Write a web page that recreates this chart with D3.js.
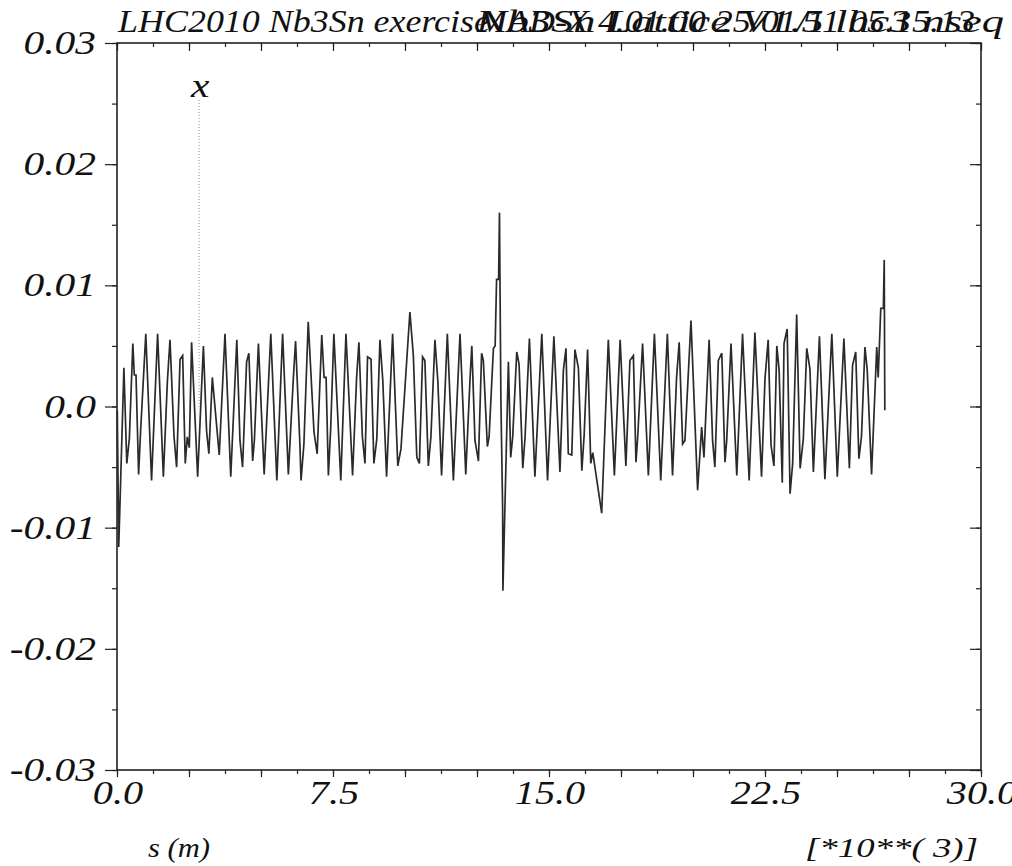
<!DOCTYPE html>
<html>
<head>
<meta charset="utf-8">
<script src="https://cdn.jsdelivr.net/npm/d3@7"></script>
<style>
  body { margin: 0; background: #fff; }
  text { font-family: "Liberation Serif", "Times New Roman", serif; font-style: italic; fill: #111; }
</style>
</head>
<body>
<div id="chart-area"></div>
<script>
const titleLeft = 'LHC2010 Nb3Sn exercise';
const titleRunA = 'MAD-X 4.01.00  25/01/11 05.15.13';
const titleRunB = 'Nb3Sn Lattice V1.5 lhc3 nseq';
const curveName = 'x';
const curveNameAt = 2.85;

const yTicks = [-0.03, -0.02, -0.01, 0, 0.01, 0.02, 0.03];
const yTickLabels = ['-0.03', '-0.02', '-0.01', '0.0', '0.01', '0.02', '0.03'];
const xTicks = [0, 7.5, 15, 22.5, 30];
const xTickLabels = ['0.0', '7.5', '15.0', '22.5', '30.0'];
const xLabel = 's (m)';
const xScaleNote = '[*10**( 3)]';

// s in km (axis is [*10**3] m), orbit x in m
const sPos = [
  0.01, 0.06, 0.24, 0.34, 0.43, 0.55, 0.60, 0.66, 0.75, 0.82,
  1.00, 1.20, 1.41, 1.61, 1.75, 1.84, 1.98, 2.07, 2.19, 2.28,
  2.37, 2.44, 2.51, 2.59, 2.80, 3.00, 3.11, 3.19, 3.31, 3.55,
  3.75, 3.95, 4.16, 4.27, 4.36, 4.50, 4.58, 4.71, 4.77, 4.91,
  5.11, 5.34, 5.55, 5.75, 5.95, 6.12, 6.20, 6.35, 6.39, 6.49,
  6.64, 6.84, 6.95, 7.11, 7.19, 7.26, 7.34, 7.42, 7.53, 7.77,
  7.95, 8.18, 8.32, 8.40, 8.52, 8.61, 8.70, 8.82, 8.92, 9.02,
  9.13, 9.23, 9.36, 9.57, 9.75, 9.86, 10.17, 10.29, 10.41, 10.50,
  10.61, 10.69, 10.81, 10.90, 11.04, 11.14, 11.27, 11.47, 11.68, 11.91,
  12.11, 12.26, 12.32, 12.43, 12.55, 12.66, 12.72, 12.86, 12.92, 13.07,
  13.13, 13.18, 13.25, 13.28, 13.33, 13.39, 13.40, 13.59, 13.67, 13.74,
  13.88, 13.96, 14.09, 14.17, 14.32, 14.51, 14.75, 14.95, 15.17, 15.38,
  15.50, 15.59, 15.67, 15.79, 15.90, 16.02, 16.14, 16.22, 16.34, 16.45,
  16.52, 16.83, 17.06, 17.27, 17.47, 17.67, 17.81, 17.93, 18.02, 18.08,
  18.25, 18.45, 18.66, 18.88, 19.11, 19.29, 19.43, 19.52, 19.64, 19.72,
  19.93, 20.16, 20.30, 20.38, 20.56, 20.68, 20.76, 20.88, 21.00, 21.11,
  21.17, 21.32, 21.52, 21.72, 21.95, 22.15, 22.38, 22.50, 22.61, 22.71,
  22.81, 22.91, 22.99, 23.10, 23.16, 23.27, 23.37, 23.46, 23.60, 23.72,
  23.83, 23.95, 24.06, 24.18, 24.39, 24.58, 24.82, 25.01, 25.24, 25.43,
  25.54, 25.65, 25.76, 25.85, 25.97, 26.05, 26.20, 26.38, 26.43, 26.52,
  26.61, 26.64, 26.66
];
const orbitX = [
  -0.0003, -0.0116, 0.0032, -0.0047, -0.0026, 0.0052, 0.0026, 0.0026, -0.0056, -0.0020,
  0.0060, -0.0061, 0.0060, -0.0058, 0.0021, 0.0055, -0.0025, -0.0050, 0.0039, 0.0042,
  -0.0047, -0.0025, -0.0034, 0.0053, -0.0058, 0.0050, -0.0020, -0.0039, 0.0024, -0.0040,
  0.0060, -0.0058, 0.0055, -0.0028, -0.0050, 0.0037, 0.0044, -0.0045, -0.0028, 0.0052,
  -0.0056, 0.0060, -0.0061, 0.0060, -0.0056, 0.0022, 0.0054, -0.0031, -0.0061, -0.0031,
  0.0070, -0.0021, -0.0039, 0.0059, 0.0024, 0.0024, -0.0057, -0.0018, 0.0060, -0.0061,
  0.0060, -0.0057, 0.0024, 0.0053, -0.0025, -0.0047, 0.0041, 0.0039, -0.0047, -0.0027,
  0.0055, 0.0021, -0.0058, 0.0060, -0.0049, -0.0035, 0.0078, 0.0042, -0.0042, -0.0047,
  0.0041, 0.0038, -0.0049, -0.0025, 0.0055, 0.0021, -0.0057, 0.0060, -0.0061, 0.0060,
  -0.0056, 0.0024, 0.0050, -0.0028, -0.0045, 0.0044, 0.0038, -0.0033, -0.0025, 0.0048,
  0.0050, 0.0105, 0.0105, 0.0160, 0.0005, -0.0084, -0.0152, 0.0037, -0.0042, -0.0025,
  0.0045, 0.0035, -0.0051, -0.0025, 0.0056, -0.0058, 0.0060, -0.0061, 0.0058, -0.0054,
  0.0030, 0.0048, -0.0039, -0.0040, 0.0047, 0.0032, -0.0053, -0.0024, 0.0047, -0.0047,
  -0.0038, -0.0088, 0.0055, -0.0057, 0.0055, -0.0049, 0.0038, 0.0042, -0.0046, -0.0025,
  0.0052, -0.0057, 0.0060, -0.0061, 0.0060, -0.0057, 0.0024, 0.0053, -0.0031, -0.0028,
  0.0071, -0.0069, -0.0017, -0.0042, 0.0055, -0.0028, -0.0050, 0.0038, 0.0044, -0.0046,
  -0.0028, 0.0052, -0.0057, 0.0060, -0.0061, 0.0061, -0.0058, 0.0023, 0.0055, -0.0032,
  -0.0049, 0.0050, 0.0030, -0.0063, 0.0052, 0.0064, -0.0072, -0.0047, 0.0076, -0.0051,
  -0.0027, 0.0048, 0.0031, -0.0054, 0.0058, -0.0060, 0.0060, -0.0058, 0.0056, -0.0051,
  0.0034, 0.0045, -0.0043, -0.0025, 0.0049, 0.0030, -0.0056, 0.0049, 0.0024, 0.0081,
  0.0081, 0.0121, -0.0003
];

const drawChart = () => {
  const chartSize = { width: 1012, height: 866 };
  const margin = { left: 117, right: 31, top: 43, bottom: 96 };
  const width = chartSize.width - margin.left - margin.right;
  const height = chartSize.height - margin.top - margin.bottom;
  const stretch = 1.22;

  const svg = d3.select('#chart-area')
    .append('svg')
    .attr('width', chartSize.width)
    .attr('height', chartSize.height);

  const g = svg.append('g')
    .attr('transform', `translate(${margin.left},${margin.top})`);

  const x = d3.scaleLinear().domain([0, 30]).range([0, width]);
  const y = d3.scaleLinear().domain([-0.03, 0.03]).range([height, 0]);

  const xMinor = d3.range(0, 30.01, 1.25);
  const xMajor = xMinor.filter((d, i) => i % 2 === 0);
  const yMinor = d3.range(-0.03, 0.0301, 0.005);
  const yMajor = yTicks;

  const tickAxis = (axis, vals, size) => axis.tickValues(vals).tickSize(size).tickFormat('');

  const addAxis = (axis, tx, ty) => {
    const a = g.append('g').attr('transform', `translate(${tx},${ty})`).call(axis);
    a.select('.domain').remove();
    a.selectAll('line').attr('stroke', '#222').attr('stroke-width', 1.2);
  };

  // left (outside), right (inside)
  addAxis(tickAxis(d3.axisLeft(y), yMinor, 5), 0, 0);
  addAxis(tickAxis(d3.axisLeft(y), yMajor, 12), 0, 0);
  addAxis(tickAxis(d3.axisLeft(y), yMinor, 5), width, 0);
  addAxis(tickAxis(d3.axisLeft(y), yMajor, 11), width, 0);
  // top (inside), bottom (outside)
  addAxis(tickAxis(d3.axisBottom(x), xMinor, 4), 0, 0);
  addAxis(tickAxis(d3.axisBottom(x), xMajor, 8), 0, 0);
  addAxis(tickAxis(d3.axisBottom(x), xMinor, 4), 0, height);
  addAxis(tickAxis(d3.axisBottom(x), xMajor, 7), 0, height);

  g.append('rect')
    .attr('x', 0).attr('y', 0)
    .attr('width', width).attr('height', height)
    .attr('fill', 'none')
    .attr('stroke', '#222')
    .attr('stroke-width', 1.6);

  const label = (txt, px, py, size, anchor) => svg.append('text')
    .attr('transform', `translate(${px},${py}) scale(${stretch},1)`)
    .attr('text-anchor', anchor)
    .style('font-size', size + 'px')
    .text(txt);

  yTicks.forEach((v, i) => label(yTickLabels[i], 96, margin.top + y(v) + 11, 34, 'end'));
  xTicks.forEach((v, i) => label(xTickLabels[i], margin.left + x(v) + 1, 804, 33, 'middle'));

  const fitted = (txt, px, py, size, len) => svg.append('text')
    .attr('x', px).attr('y', py)
    .attr('textLength', len)
    .attr('lengthAdjust', 'spacingAndGlyphs')
    .style('font-size', size + 'px')
    .text(txt);

  fitted(titleLeft, 118, 32, 31, 372);
  fitted(titleRunA, 477, 32, 31, 498);
  fitted(titleRunB, 477, 32, 31, 527);
  fitted(xLabel, 148, 857, 28, 62);
  fitted(xScaleNote, 805, 857, 28, 173);

  // curve
  const pts = sPos.map((s, i) => [s, orbitX[i]]);
  const line = d3.line().x(d => x(d[0])).y(d => y(d[1]));
  g.append('path')
    .datum(pts)
    .attr('d', line)
    .attr('fill', 'none')
    .attr('stroke', '#2a2a2a')
    .attr('stroke-width', 1.7)
    .attr('stroke-linejoin', 'miter');

  // curve name marker
  g.append('line')
    .attr('x1', x(curveNameAt)).attr('x2', x(curveNameAt))
    .attr('y1', y(0.0253)).attr('y2', y(0))
    .attr('stroke', '#888')
    .attr('stroke-width', 1)
    .attr('stroke-dasharray', '1,2');
  label(curveName, margin.left + x(curveNameAt) + 1, 97, 34, 'middle');
};

const main = () => {
  drawChart();
};
window.onload = main;
</script>
</body>
</html>
